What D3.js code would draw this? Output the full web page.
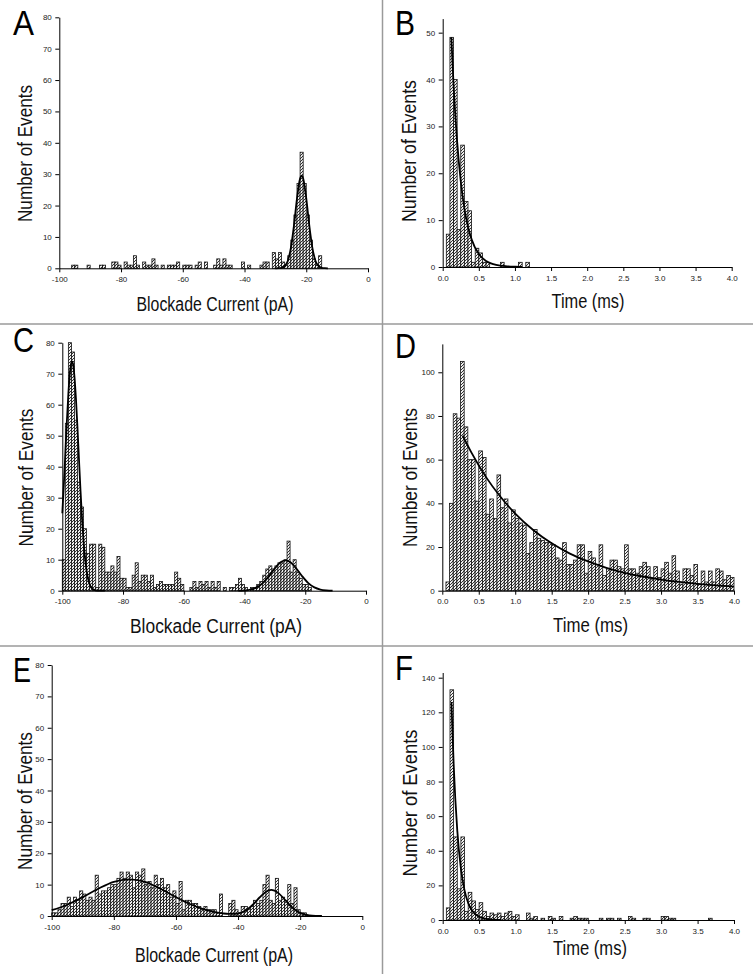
<!DOCTYPE html>
<html><head><meta charset="utf-8">
<script src="https://cdn.jsdelivr.net/npm/d3@7"></script>
<style>body{margin:0;background:#fff} svg{display:block}</style>
</head><body>
<svg id="chart" width="753" height="974"></svg>
<script>
// ---------------- DATA ----------------
// Histogram counts. Current panels: 1 pA bins from -100 pA; time panels: 0.05 ms bins from 0 ms.
const countsA = [0,0,0,0,1,1,0,0,0,1, 0,0,0,1,1,0,0,2,2,1, 0,2,1,1,4,1,0,2,1,1, 3,1,0,1,0,1,1,1,2,0,
                 1,1,1,0,1,2,0,2,0,0, 1,3,1,3,1,1,0,0,0,2, 0,1,0,0,0,1,2,2,0,5, 3,5,2,1,4,9,17,27,37,27,
                 17,9,3,1,4,0,0,0,0,0, 0,0,0,0,0,0,0,0,0,0];
const countsB = [0,7,49,40,8,26,14,12,1,4, 3,1,1,0,0,0,1,0,0,0, 0,1,0,1,0,0,0,0,0,0,
                 0,0,0,0,0,0,0,0,0,0, 0,0,0,0,0,0,0,0,0,0, 0,0,0,0,0,0,0,0,0,0, 0,0,0,0,0,0,0,0,0,0,
                 0,0,0,0,0,0,0,0,0,0];
const countsC = [10,54,80,77,55,35,27,20,12,15, 15,1,15,14,6,6,8,6,11,4, 4,1,1,5,9,3,5,5,3,5,
                 1,2,3,2,2,2,2,6,4,2, 0,0,1,3,1,3,2,3,1,3, 1,3,0,1,0,1,1,2,4,2, 1,0,1,1,2,3,5,7,8,7,
                 8,9,9,10,16,6,10,6,4,2, 2,1,0,0,0,0,0,0,0,0, 0,0,0,0,0,0,0,0,0,0];
const countsD = [0,4,40,81,79,105,75,60,60,41, 64,61,35,42,33,53,38,42,31,37, 33,31,30,17,22,28,24,23,22,22,
                 21,15,14,22,12,12,14,21,21,8, 18,15,12,21,7,10,14,14,11,10, 21,10,10,8,11,13,11,5,11,6,
                 10,13,8,16,9,3,10,10,7,12, 3,9,4,9,4,10,9,5,7,6];
const countsE = [1,1,2,4,4,6,3,6,5,8, 7,5,6,5,13,7,8,8,9,10, 10,12,14,12,14,13,9,14,13,15,
                 10,11,9,13,10,12,9,10,6,8, 4,11,2,5,5,4,4,3,2,3, 2,2,2,1,7,0,0,4,5,2,
                 1,3,3,2,3,5,4,5,10,13, 5,4,12,5,6,5,10,4,9,2, 1,1,0,0,0,0,0,0,0,0, 0,0,0,0,0,0,0,0,0,0];
const countsF = [0,7,133,48,18,48,5,16,11,6, 10,5,2,4,3,4,2,4,5,2, 3,0,0,4,1,2,0,1,0,2,
                 1,0,2,0,0,1,2,1,1,1, 0,0,0,1,0,1,1,0,1,0, 0,2,1,0,0,1,1,0,0,0, 2,2,1,1,0,0,0,0,0,0,
                 0,0,0,1,0,0,0,0,0,0];

// Fit curves, points [x, count]
const fitA = [[-30,0],[-29,0.03],[-28,0.15],[-27,0.67],[-26,2.35],[-25,6.4],[-24,13.5],[-23,22.3],[-22,28.6],[-21.5,29.5],
              [-21,28.6],[-20,22.3],[-19,13.5],[-18,6.4],[-17,2.35],[-16,0.67],[-15,0.15],[-14,0.03],[-13,0]];
const fitB = [[0.12,49],[0.15,39],[0.2,26.7],[0.25,18.3],[0.3,12.5],[0.35,8.6],[0.4,5.9],[0.5,2.75],[0.6,1.29],
              [0.7,0.6],[0.8,0.28],[0.9,0.13],[1.0,0.06],[1.1,0.03]];
const fitC1 = [[-100,25],[-99.5,34],[-99,44.3],[-98.5,54.5],[-98,63.5],[-97.5,70.2],[-97,73.7],[-96.8,74],[-96.5,73.3],
               [-96,69.1],[-95.5,61.8],[-95,52.5],[-94.5,42.2],[-94,32.2],[-93.5,23.3],[-93,16],[-92.5,10.4],[-92,6.4],
               [-91.5,3.75],[-91,2.1],[-90.5,1.1],[-90,0.55],[-89,0.12],[-88,0.02],[-86,0]];
const fitC2 = [[-42,0.03],[-40,0.11],[-38,0.37],[-36,1.06],[-34,2.44],[-32,4.64],[-30,7.24],[-28,9.27],[-26.5,9.8],
               [-25,9.27],[-23,7.24],[-21,4.64],[-19,2.44],[-17,1.06],[-15,0.37],[-13,0.11],[-11,0.03]];
const fitD = [[0.28,71],[0.4,63.2],[0.6,52],[0.8,42.9],[1.0,35.3],[1.25,27.7],[1.5,21.7],[1.75,17],[2.0,13.4],
              [2.25,10.5],[2.5,8.2],[2.75,6.5],[3.0,5.1],[3.25,4.0],[3.5,3.1],[3.75,2.4],[4.0,1.9]];
const fitE = [[-100,1.84],[-95,3.6],[-90,6.0],[-85,8.7],[-80,10.9],[-75,11.7],[-70,10.9],[-65,8.7],[-60,6.0],
              [-55,3.6],[-50,1.84],[-47,1.15],[-45,0.84],[-43,0.65],[-41,0.66],[-39,1.06],[-37,2.09],[-35,3.82],
              [-33,5.98],[-31,7.76],[-29.3,8.3],[-27,7.29],[-25,5.26],[-23,3.11],[-21,1.52],[-19,0.6],[-17,0.2],
              [-15,0.05],[-13,0.01]];
const fitF = [[0.12,126],[0.15,90.3],[0.2,51.8],[0.25,29.7],[0.3,17.1],[0.35,9.8],[0.4,5.6],[0.5,1.85],
              [0.6,0.61],[0.7,0.2],[0.8,0.07]];

const currentTicksMajor = [-100,-80,-60,-40,-20,0];
const currentTicksMinor = [-90,-70,-50,-30,-10];
const timeTicksMajor = [0,0.5,1.0,1.5,2.0,2.5,3.0,3.5,4.0];
const timeTicksMinor = [0.25,0.75,1.25,1.75,2.25,2.75,3.25,3.75];
const yTicks80 = [0,10,20,30,40,50,60,70,80];
const yMinor80 = [5,15,25,35,45,55,65,75];
const yTicksB = [0,10,20,30,40,50];
const yMinorB = [5,15,25,35,45];
const yTicksD = [0,20,40,60,80,100];
const yMinorD = [10,30,50,70,90,110];
const yTicksF = [0,20,40,60,80,100,120,140];
const yMinorF = [10,30,50,70,90,110,130];

const xTitleCurrent = "Blockade Current (pA)";
const xTitleTime = "Time (ms)";
const yTitle = "Number of Events";

// ---------------- LAYOUT ----------------
const FONT = "'Liberation Sans', Arial, Helvetica, sans-serif";
const panels = [
  {letter:"A", lx:13, ly:35, lw:21, counts:countsA, binStart:-100, binWidth:1, fits:[fitA],
   xDomain:[-100,0], yDomain:[0,80], x0:59.3, x1:368, y0:268.3, yTop:17.3,
   xMaj:currentTicksMajor, xMin:currentTicksMinor, yMaj:yTicks80, yMin:yMinor80, time:false,
   xt:{cx:215, by:311, w:157, text:xTitleCurrent}, yt:{cy:153.5, bx:31.5, w:137}},
  {letter:"B", lx:395, ly:35, lw:20, counts:countsB, binStart:0, binWidth:0.05, fits:[fitB],
   xDomain:[0,4], yDomain:[0,53], x0:442.7, x1:731.7, y0:267, yTop:18.6,
   xMaj:timeTicksMajor, xMin:timeTicksMinor, yMaj:yTicksB, yMin:yMinorB, time:true,
   xt:{cx:588, by:307.5, w:73, text:xTitleTime}, yt:{cy:151, bx:416, w:142}},
  {letter:"C", lx:13, ly:352, lw:21, counts:countsC, binStart:-100, binWidth:1, fits:[fitC1, fitC2],
   xDomain:[-100,0], yDomain:[0,80], x0:62.3, x1:366, y0:590.7, yTop:342.7,
   xMaj:currentTicksMajor, xMin:currentTicksMinor, yMaj:yTicks80, yMin:yMinor80, time:false,
   xt:{cx:216, by:632.5, w:172, text:xTitleCurrent}, yt:{cy:477.5, bx:33, w:138}},
  {letter:"D", lx:395, ly:358, lw:21, counts:countsD, binStart:0, binWidth:0.05, fits:[fitD],
   xDomain:[0,4], yDomain:[0,113], x0:442.3, x1:734, y0:590.7, yTop:343.9,
   xMaj:timeTicksMajor, xMin:timeTicksMinor, yMaj:yTicksD, yMin:yMinorD, time:true,
   xt:{cx:590.5, by:631.5, w:75, text:xTitleTime}, yt:{cy:477.5, bx:417, w:139}},
  {letter:"E", lx:13, ly:682, lw:18, counts:countsE, binStart:-100, binWidth:1, fits:[fitE],
   xDomain:[-100,0], yDomain:[0,80], x0:51.7, x1:362.3, y0:916, yTop:665,
   xMaj:currentTicksMajor, xMin:currentTicksMinor, yMaj:yTicks80, yMin:yMinor80, time:false,
   xt:{cx:214, by:961.5, w:158, text:xTitleCurrent}, yt:{cy:801, bx:32, w:138}},
  {letter:"F", lx:395, ly:680, lw:18, counts:countsF, binStart:0, binWidth:0.05, fits:[fitF],
   xDomain:[0,4], yDomain:[0,143], x0:442.7, x1:734, y0:920, yTop:672.5,
   xMaj:timeTicksMajor, xMin:timeTicksMinor, yMaj:yTicksF, yMin:yMinorF, time:true,
   xt:{cx:590, by:954.5, w:74, text:xTitleTime}, yt:{cy:803, bx:417, w:147}}
];

const svg = d3.select("#chart");
svg.append("rect").attr("width",753).attr("height",974).attr("fill","#fff");

// hatch pattern
const defs = svg.append("defs");
const pat = defs.append("pattern").attr("id","hatch").attr("patternUnits","userSpaceOnUse")
  .attr("width",3).attr("height",3);
pat.append("rect").attr("width",3).attr("height",3).attr("fill","#f0f0f0");
pat.append("path").attr("d","M0,3 L3,0 M-0.75,0.75 L0.75,-0.75 M2.25,3.75 L3.75,2.25")
  .attr("stroke","#333").attr("stroke-width",1);

// separators
const sep = svg.append("g").attr("stroke","#9a9a9a").attr("stroke-width",1.5);
sep.append("line").attr("x1",382.5).attr("x2",382.5).attr("y1",0).attr("y2",974);
sep.append("line").attr("x1",0).attr("x2",753).attr("y1",324).attr("y2",324);
sep.append("line").attr("x1",0).attr("x2",753).attr("y1",646).attr("y2",646);

const fmtTime = d3.format(".1f");
const fmtCur = d => String(d);

panels.forEach(p => {
  const x = d3.scaleLinear().domain(p.xDomain).range([p.x0, p.x1]);
  const y = d3.scaleLinear().domain(p.yDomain).range([p.y0, p.yTop]);
  const g = svg.append("g");

  const bins = p.counts.map((c,i) => ({s: p.binStart + i*p.binWidth, c}));
  g.append("g").selectAll("rect").data(bins.filter(d => d.c > 0)).join("rect")
    .attr("x", d => x(d.s))
    .attr("width", d => x(d.s + p.binWidth) - x(d.s))
    .attr("y", d => y(d.c))
    .attr("height", d => y(0) - y(d.c))
    .attr("fill","url(#hatch)").attr("stroke","#111").attr("stroke-width",0.8);

  const line = d3.line().x(d => x(d[0])).y(d => y(d[1])).curve(d3.curveMonotoneX);
  p.fits.forEach(f => {
    g.append("path").attr("d", line(f)).attr("fill","none").attr("stroke","#000").attr("stroke-width",1.8);
  });

  // axes
  const fmt = p.time ? fmtTime : fmtCur;
  const xa = g.append("g").attr("transform",`translate(0,${p.y0})`);
  xa.call(d3.axisBottom(x).tickValues(p.xMin).tickSize(2.5).tickSizeOuter(0).tickFormat(""));
  xa.call(d3.axisBottom(x).tickValues(p.xMaj).tickSize(4).tickSizeOuter(0).tickPadding(4).tickFormat(fmt));
  const ya = g.append("g").attr("transform",`translate(${p.x0},0)`);
  ya.call(d3.axisLeft(y).tickValues(p.yMin).tickSize(2.5).tickSizeOuter(0).tickFormat(""));
  ya.call(d3.axisLeft(y).tickValues(p.yMaj).tickSize(4).tickSizeOuter(0).tickPadding(3.5).tickFormat(d3.format("d")));
  g.selectAll(".domain, .tick line").attr("stroke","#000").attr("stroke-width",1);
  g.selectAll(".tick text").attr("font-family",FONT).attr("font-size",8).attr("fill","#222");
  xa.attr("font-family",FONT); ya.attr("font-family",FONT);

  // titles
  svg.append("text").attr("x",p.xt.cx).attr("y",p.xt.by).attr("text-anchor","middle")
    .attr("font-family",FONT).attr("font-size",20).attr("fill","#111")
    .attr("textLength",p.xt.w).attr("lengthAdjust","spacingAndGlyphs").text(p.xt.text);
  svg.append("text").attr("transform",`translate(${p.yt.bx},${p.yt.cy}) rotate(-90)`)
    .attr("text-anchor","middle").attr("font-family",FONT).attr("font-size",20).attr("fill","#111")
    .attr("textLength",p.yt.w).attr("lengthAdjust","spacingAndGlyphs").text(yTitle);
  svg.append("text").attr("x",p.lx).attr("y",p.ly).attr("font-family",FONT).attr("font-size",35)
    .attr("fill","#000").attr("textLength",p.lw).attr("lengthAdjust","spacingAndGlyphs").text(p.letter);
});
</script>
</body></html>
